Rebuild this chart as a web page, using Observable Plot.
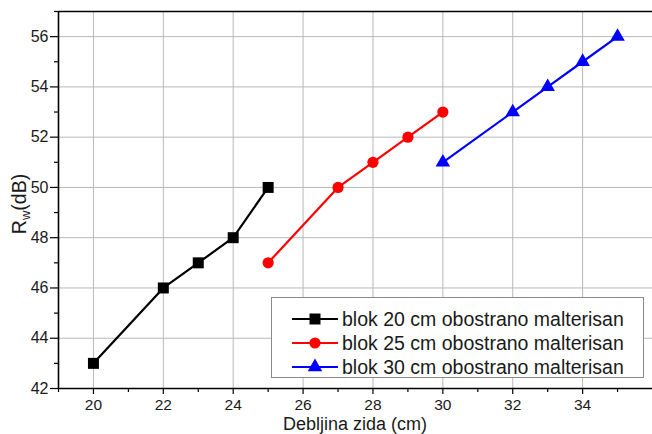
<!DOCTYPE html>
<html>
<head>
<meta charset="utf-8">
<script src="https://cdn.jsdelivr.net/npm/d3@7"></script>
<script src="https://cdn.jsdelivr.net/npm/@observablehq/plot@0.6"></script>
<style>
  html, body { margin: 0; padding: 0; background: #fff; }
  #chart { position: relative; width: 652px; height: 434px; overflow: hidden; }
</style>
</head>
<body>
<div id="chart"></div>
<script>
// Data
const seriesNames = ["blok 20 cm obostrano malterisan", "blok 25 cm obostrano malterisan", "blok 30 cm obostrano malterisan"];
const seriesColors = ["#000000", "#ff0000", "#0000ff"];
const seriesSymbols = ["square", "circle", "triangle"];
const thickness20 = [20, 22, 23, 24, 25];
const rw20 = [43, 46, 47, 48, 50];
const thickness25 = [25, 27, 28, 29, 30];
const rw25 = [47, 50, 51, 52, 53];
const thickness30 = [30, 32, 33, 34, 35];
const rw30 = [51, 53, 54, 55, 56];
const xMajorTicks = [20, 22, 24, 26, 28, 30, 32, 34];
const xMinorTicks = [19, 21, 23, 25, 27, 29, 31, 33, 35];
const yMajorTicks = [42, 44, 46, 48, 50, 52, 54, 56];
const yMinorTicks = [43, 45, 47, 49, 51, 53, 55, 57];
const xTitle = "Debljina zida (cm)";

const groups = [
  {x: thickness20, y: rw20},
  {x: thickness25, y: rw25},
  {x: thickness30, y: rw30}
];
const data = groups.flatMap((g, i) => g.x.map((x, j) => ({x, y: g.y[j], series: seriesNames[i]})));
const symbolSizes = [6.2, 5.6, 5.4];

const font = "'Liberation Sans', Arial, sans-serif";

const chart = Plot.plot({
  width: 652,
  height: 434,
  marginLeft: 58,
  marginRight: 0,
  marginTop: 11,
  marginBottom: 46,
  x: {domain: [19, 36]},
  y: {domain: [42, 57]},
  style: {fontFamily: font, fontSize: "16px", color: "#1a1a1a", background: "#fff"},
  marks: [
    Plot.gridX(xMajorTicks, {stroke: "#b8b8b8", strokeOpacity: 1, strokeWidth: 1}),
    Plot.gridY(yMajorTicks.filter(v => v > 42), {stroke: "#b8b8b8", strokeOpacity: 1, strokeWidth: 1}),
    Plot.axisX(xMajorTicks, {tickSize: 6, tickPadding: 4, label: null, stroke: "#000", strokeWidth: 1.2, fontSize: 15.5}),
    Plot.axisX(xMinorTicks, {tickSize: 4, tickFormat: () => "", label: null, stroke: "#000", strokeWidth: 1.2}),
    Plot.axisY(yMajorTicks, {tickSize: 8, tickPadding: 2, label: null, stroke: "#000", strokeWidth: 1.2, fontSize: 16}),
    Plot.axisY(yMinorTicks, {tickSize: 4, tickFormat: () => "", label: null, stroke: "#000", strokeWidth: 1.2}),
    Plot.ruleX([19], {stroke: "#000", strokeWidth: 1.6}),
    Plot.ruleY([42], {stroke: "#000", strokeWidth: 1.6}),
    Plot.ruleY([57], {stroke: "#000", strokeWidth: 1.6}),
    ...seriesNames.map((name, i) => Plot.line(data.filter(d => d.series === name), {x: "x", y: "y", stroke: seriesColors[i], strokeWidth: 2.2})),
    ...seriesNames.map((name, i) => Plot.dot(data.filter(d => d.series === name), {x: "x", y: "y", symbol: seriesSymbols[i], fill: seriesColors[i], stroke: "none", r: symbolSizes[i]}))
  ]
});

const svg = d3.select(chart);
svg.style("overflow", "hidden");

// Axis titles
svg.append("text")
  .attr("x", 355).attr("y", 430)
  .style("text-anchor", "middle")
  .style("font-family", font).style("font-size", "18px").style("fill", "#1a1a1a")
  .text(xTitle);

const yl = svg.append("text")
  .attr("transform", "translate(26,204) rotate(-90)")
  .style("text-anchor", "middle")
  .style("font-family", font).style("font-size", "19.5px").style("fill", "#1a1a1a");
yl.append("tspan").text("R");
yl.append("tspan").style("font-size", "13px").attr("dy", 4).text("w");
yl.append("tspan").attr("dy", -4).text("(dB)");

// Legend
const lg = svg.append("g");
lg.append("rect").attr("x", 271.5).attr("y", 297.5).attr("width", 372).attr("height", 80)
  .attr("fill", "#fff").attr("stroke", "#8a8a8a").attr("stroke-width", 1);
const symGen = [d3.symbolSquare, d3.symbolCircle, d3.symbolTriangle];
seriesNames.forEach((name, i) => {
  const cy = 319 + i * 24;
  lg.append("line").attr("x1", 292).attr("x2", 338).attr("y1", cy).attr("y2", cy)
    .attr("stroke", seriesColors[i]).attr("stroke-width", 2.2);
  const r = symbolSizes[i];
  lg.append("path").attr("transform", `translate(315,${cy})`)
    .attr("d", d3.symbol(symGen[i], Math.PI * r * r)())
    .attr("fill", seriesColors[i]);
  lg.append("text").attr("x", 342).attr("y", cy + 7)
    .style("text-anchor", "start")
    .style("font-family", font).style("font-size", "19.5px").style("fill", "#1a1a1a")
    .text(name);
});

document.getElementById("chart").appendChild(chart);
</script>
</body>
</html>
